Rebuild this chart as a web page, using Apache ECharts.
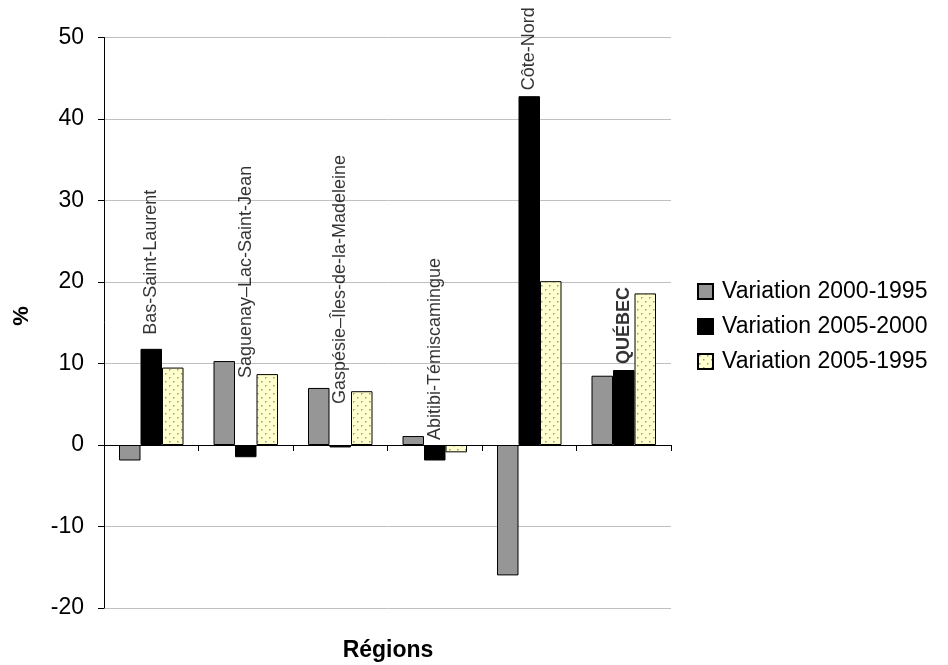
<!DOCTYPE html>
<html>
<head>
<meta charset="utf-8">
<script src="https://cdn.jsdelivr.net/npm/echarts@6/dist/echarts.min.js"></script>
<style>
  html, body { margin: 0; padding: 0; background: #fff; }
  #chart { width: 948px; height: 665px; }
</style>
</head>
<body>
<div id="chart"></div>
<script>
// Population change by region (%)
const categories = [
  'Bas-Saint-Laurent',
  'Saguenay\u2013Lac-Saint-Jean',
  'Gaspésie\u2013Îles-de-la-Madeleine',
  'Abitibi-Témiscamingue',
  'Côte-Nord',
  'QUÉBEC'
];
const seriesNames = ['Variation 2000-1995', 'Variation 2005-2000', 'Variation 2005-1995'];
const var2000_1995 = [-1.9, 10.3, 7.0, 1.1, -16.0, 8.5];
const var2005_2000 = [11.8, -1.5, -0.3, -1.9, 42.8, 9.2];
const var2005_1995 = [9.5, 8.7, 6.6, -0.9, 20.1, 18.6];
const yTicks = { min: -20, max: 50, step: 10 };

// Distance (px) between each region label and the top of its middle bar
const labelLift = [14, 67, 41, 5, 6, 6];

const FONT = '"Liberation Sans", Arial, sans-serif';

// Pale yellow fill with a staggered grey dot grid
function dotPattern() {
  const c = document.createElement('canvas');
  c.width = 8; c.height = 8;
  const g = c.getContext('2d');
  g.fillStyle = '#FFFFCC';
  g.fillRect(0, 0, 8, 8);
  g.fillStyle = '#999999';
  g.fillRect(1, 1, 1.5, 1.5);
  g.fillRect(5, 5, 1.5, 1.5);
  return c;
}

const chart = echarts.init(document.getElementById('chart'), null, { renderer: 'canvas' });

const barBase = {
  type: 'bar',
  barWidth: 21.5,
  barGap: '0%',
  animation: false
};

const option = {
  animation: false,
  textStyle: { fontFamily: FONT },
  grid: { left: 104, right: 277, top: 37.5, bottom: 57, containLabel: false },
  legend: {
    orient: 'vertical',
    left: 697,
    top: 280,
    padding: 0,
    itemWidth: 15,
    itemHeight: 15,
    itemGap: 12,
    icon: 'rect',
    data: seriesNames,
    textStyle: { fontSize: 23, color: '#000', fontFamily: FONT, padding: [0, 0, 0, 4] }
  },
  xAxis: {
    type: 'category',
    data: categories,
    axisLine: { onZero: true, lineStyle: { color: '#000', width: 1 } },
    axisTick: { show: true, interval: 0, length: 6, lineStyle: { color: '#000' } },
    axisLabel: { show: false },
    splitLine: { show: false }
  },
  yAxis: {
    type: 'value',
    min: yTicks.min,
    max: yTicks.max,
    interval: yTicks.step,
    axisLine: { show: true, lineStyle: { color: '#000', width: 1 } },
    axisTick: { show: true, length: 6, lineStyle: { color: '#000' } },
    axisLabel: { fontSize: 23, color: '#000', margin: 20, fontFamily: FONT },
    splitLine: { show: true, lineStyle: { color: '#C0C0C0', width: 1 } }
  },
  graphic: [{
    type: 'text',
    x: 388,
    y: 651,
    style: {
      text: 'Régions', font: 'bold 23px ' + FONT, fill: '#000',
      align: 'center', verticalAlign: 'middle'
    }
  }, {
    type: 'text',
    x: 22,
    y: 316,
    rotation: Math.PI / 2,
    style: {
      text: '%', font: 'bold 22px ' + FONT, fill: '#000',
      align: 'center', verticalAlign: 'middle'
    }
  }],
  series: [
    Object.assign({}, barBase, {
      name: seriesNames[0],
      data: var2000_1995,
      itemStyle: { color: '#969696', borderColor: '#000', borderWidth: 1 }
    }),
    Object.assign({}, barBase, {
      name: seriesNames[1],
      data: var2005_2000,
      itemStyle: { color: '#000', borderColor: '#000', borderWidth: 1 }
    }),
    Object.assign({}, barBase, {
      name: seriesNames[2],
      data: var2005_1995,
      itemStyle: {
        color: { image: dotPattern(), repeat: 'repeat' },
        borderColor: '#000',
        borderWidth: 1
      }
    }),
    {
      // Region names written upright above the middle bar of each group
      type: 'scatter',
      name: 'labels',
      symbolSize: 0,
      silent: true,
      z: 5,
      data: categories.map((c, i) => ({
        value: [i, Math.max(0, var2005_2000[i])],
        label: {
          show: true,
          formatter: c,
          position: 'top',
          distance: labelLift[i],
          rotate: 90,
          align: 'left',
          verticalAlign: 'middle',
          fontSize: 18,
          fontWeight: i === categories.length - 1 ? 'bold' : 'normal',
          color: '#000',
          fontFamily: FONT
        }
      }))
    }
  ]
};

chart.setOption(option);
</script>
</body>
</html>
